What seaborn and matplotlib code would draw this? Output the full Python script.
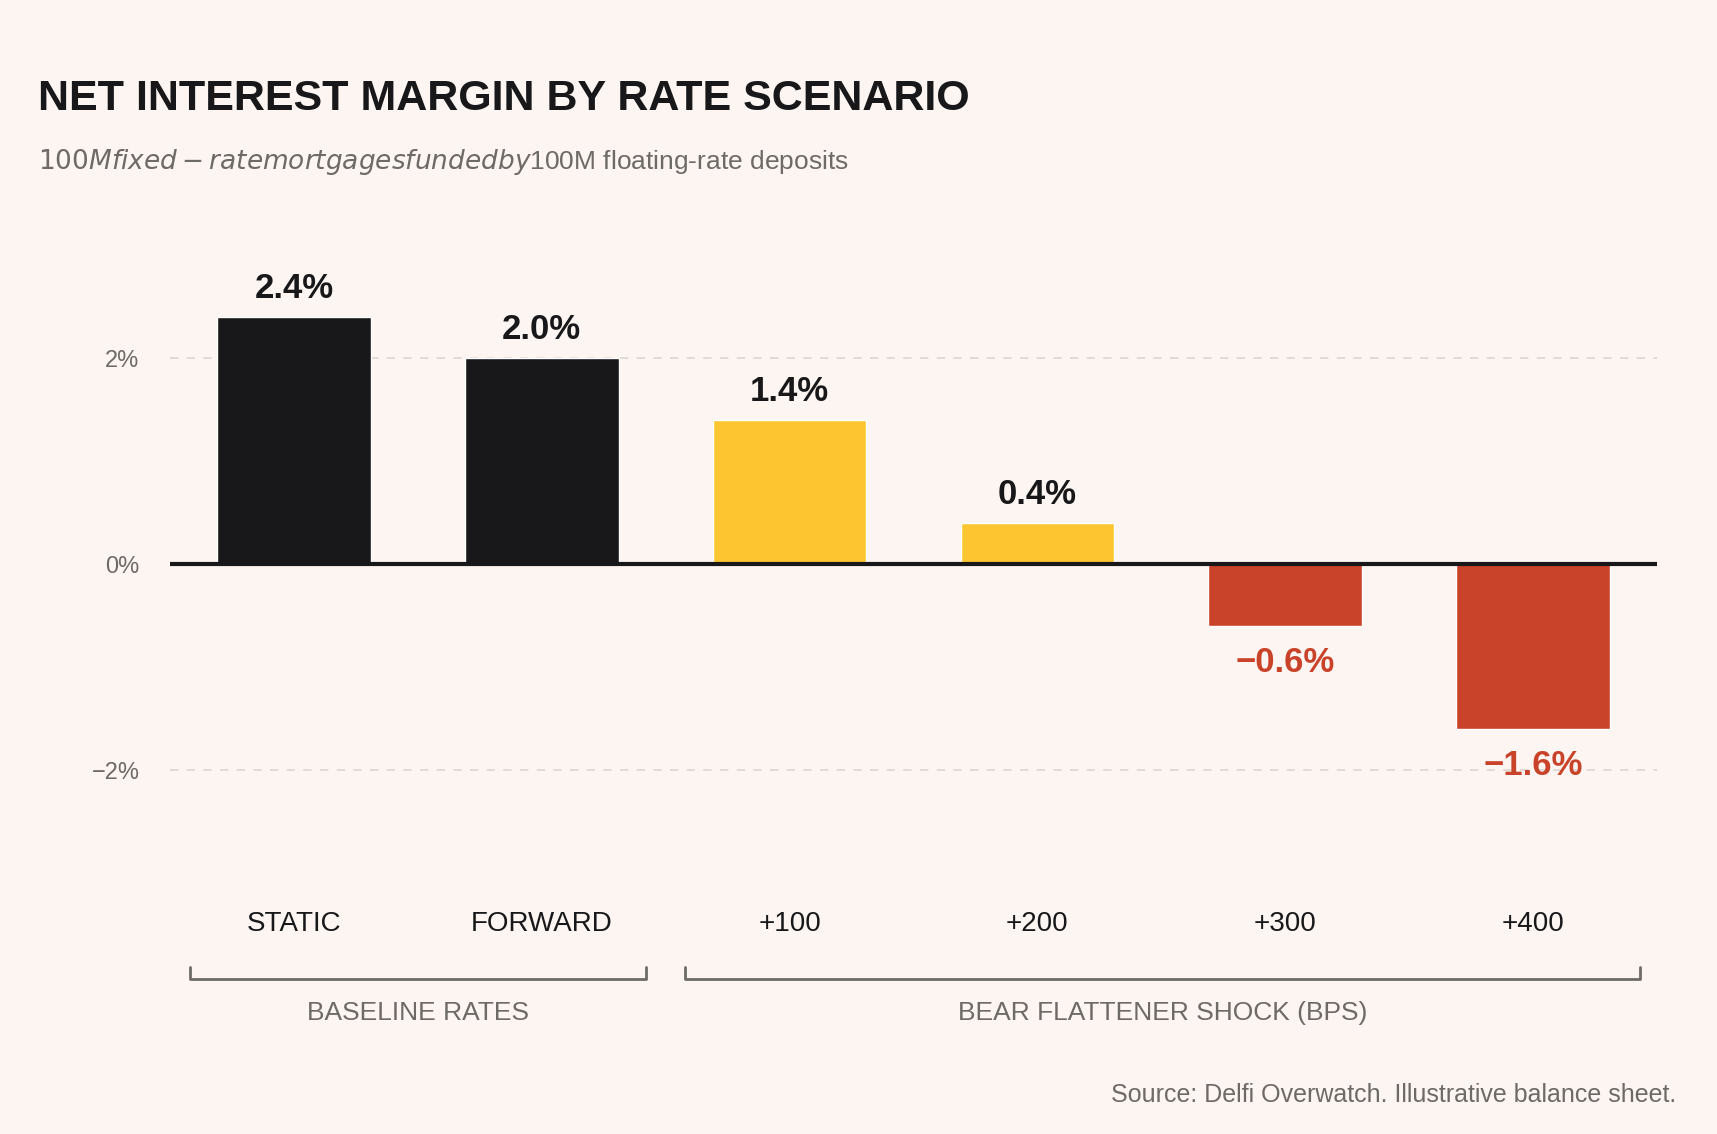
import matplotlib
matplotlib.use("Agg")
import matplotlib.pyplot as plt
import matplotlib.transforms as mtransforms
import seaborn as sns

scenarios = ["STATIC", "FORWARD", "+100", "+200", "+300", "+400"]
nim = [2.4, 2.0, 1.4, 0.4, -0.6, -1.6]
bar_colors = ["#18181b", "#18181b", "#fdc530", "#fdc530", "#c9432a", "#c9432a"]
groups = [("BASELINE RATES", -0.42, 1.42), ("BEAR FLATTENER SHOCK (BPS)", 1.58, 5.43)]

bg = "#fcf5f1"
gray = "#6e6a66"

sns.set_theme(style="white")
plt.rcParams["font.family"] = ["Liberation Sans", "DejaVu Sans"]

fig = plt.figure(figsize=(17.17, 11.34), dpi=100, facecolor=bg)
ax = fig.add_axes([0.099, 0.212, 0.866, 0.563], facecolor=bg)

sns.barplot(x=scenarios, y=nim, hue=scenarios, palette=bar_colors, legend=False,
            width=0.62, saturation=1, ax=ax, zorder=3)

ax.set_ylim(-3.2, 3.0)
ax.set_xlim(-0.5, 5.5)
ax.set_yticks([-2, 0, 2])
ax.set_yticklabels(["\u22122%", "0%", "2%"], fontsize=17, color=gray)
for y in (-2, 2):
    ax.axhline(y, color="#dcd6d2", lw=1.2, ls=(0, (5, 5)), zorder=1)
ax.axhline(0, color="#18181b", lw=3, zorder=4)
ax.tick_params(axis="y", length=0, pad=22)
ax.tick_params(axis="x", length=0)
ax.set_xticklabels([])
sns.despine(ax=ax, left=True, bottom=True)

for i, v in enumerate(nim):
    if v >= 0:
        ax.text(i, v + 0.12, f"{v:.1f}%", ha="center", va="bottom",
                fontsize=25, fontweight="bold", color="#18181b")
    else:
        ax.text(i, v - 0.2, f"\u2212{abs(v):.1f}%", ha="center", va="top",
                fontsize=25, fontweight="bold", color="#c9432a")

trans = mtransforms.blended_transform_factory(ax.transData, fig.transFigure)
for i, s in enumerate(scenarios):
    fig.text(i, 0.185, s, transform=trans, ha="center", va="center",
             fontsize=20, color="#18181b")
for name, x0, x1 in groups:
    fig.lines.append(plt.Line2D([x0, x0, x1, x1], [0.147, 0.137, 0.137, 0.147],
                                transform=trans, color=gray, lw=2))
    fig.text((x0 + x1) / 2, 0.107, "  ".join(name.split(" ")).replace("", " ").strip()
             if False else name, transform=trans, ha="center", va="center",
             fontsize=19, color=gray)

fig.text(0.022, 0.913, "NET INTEREST MARGIN BY RATE SCENARIO", fontsize=31,
         fontweight="bold", color="#18181b", va="center")
fig.text(0.022, 0.857, "$100M fixed-rate mortgages funded by $100M floating-rate deposits",
         fontsize=19, color=gray, va="center")
fig.text(0.976, 0.034, "Source: Delfi Overwatch. Illustrative balance sheet.",
         fontsize=18, color=gray, ha="right", va="center")

fig.savefig("out.png", dpi=100, facecolor=bg)
